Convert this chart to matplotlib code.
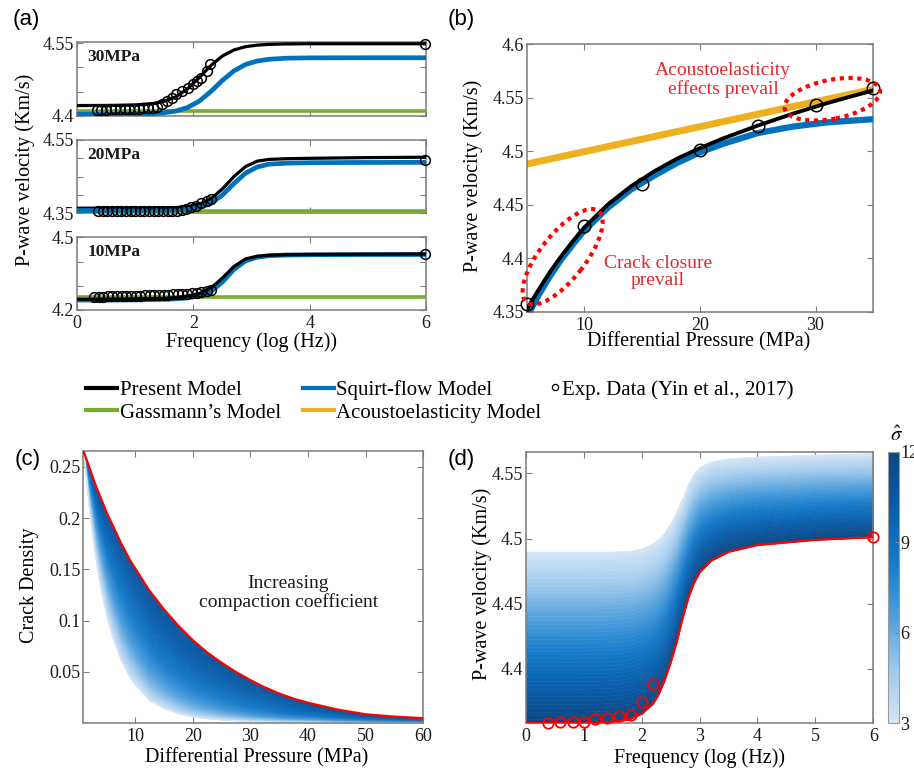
import numpy as np
import matplotlib
matplotlib.use("Agg")
import matplotlib.pyplot as plt
import matplotlib.transforms as mtransforms
from matplotlib.patches import Ellipse
from matplotlib.lines import Line2D
from matplotlib.colors import LinearSegmentedColormap, Normalize
from matplotlib.cm import ScalarMappable

plt.rcParams.update({
    "font.family": ["Liberation Serif", "DejaVu Serif"],
    "mathtext.fontset": "stix",
    "xtick.direction": "in",
    "ytick.direction": "in",
    "xtick.top": True,
    "ytick.right": True,
    "xtick.major.size": 4,
    "ytick.major.size": 4,
    "xtick.major.width": 0.8,
    "ytick.major.width": 0.8,
    "xtick.color": "#808080",
    "ytick.color": "#808080",
    "xtick.labelcolor": "#1a1a1a",
    "ytick.labelcolor": "#1a1a1a",
    "xtick.labelsize": 13,
    "ytick.labelsize": 13,
    "axes.edgecolor": "#7a7a7a",
    "axes.linewidth": 1.1,
})

# ---------------- data ----------------
# (a) dispersion curves at three differential pressures, log10 frequency grid
FREQ_A = [0, 0.6, 1.0, 1.3, 1.5, 1.7, 1.9, 2.1, 2.3, 2.5, 2.7, 2.9, 3.1, 3.3, 3.6, 4.0, 5.0, 6.0]

PRESENT_30 = [4.421, 4.4213, 4.4223, 4.4251, 4.4298, 4.4392, 4.4554, 4.4786, 4.5037, 4.5237,
              4.5362, 4.543, 4.5462, 4.5477, 4.5486, 4.549, 4.549, 4.549]
SQUIRT_30 = [4.403, 4.403, 4.4035, 4.4044, 4.4062, 4.4097, 4.4169, 4.430, 4.4499, 4.4731,
             4.493, 4.5061, 4.5133, 4.5168, 4.5191, 4.5198, 4.520, 4.520]
GASSMANN_30 = 4.410

PRESENT_20 = [4.364, 4.364, 4.364, 4.3642, 4.3646, 4.3655, 4.368, 4.3746, 4.3893, 4.4165,
              4.4505, 4.4777, 4.4924, 4.497, 4.499, 4.500, 4.502, 4.503]
SQUIRT_20 = [4.3577, 4.3577, 4.3577, 4.3578, 4.3581, 4.3588, 4.3607, 4.3656, 4.3771, 4.3998,
             4.4315, 4.4597, 4.4765, 4.4841, 4.4868, 4.488, 4.4888, 4.489]
GASSMANN_20 = 4.357

PRESENT_10 = [4.244, 4.245, 4.246, 4.247, 4.248, 4.251, 4.258, 4.268, 4.290, 4.332,
              4.380, 4.411, 4.422, 4.426, 4.428, 4.429, 4.430, 4.431]
SQUIRT_10 = [4.241, 4.241, 4.242, 4.243, 4.244, 4.246, 4.250, 4.258, 4.276, 4.316,
             4.368, 4.403, 4.418, 4.424, 4.427, 4.428, 4.429, 4.429]
GASSMANN_10 = 4.2535

EXP_F_30 = [0.34, 0.42, 0.50, 0.58, 0.66, 0.74, 0.82, 0.90, 0.98, 1.06, 1.14, 1.22, 1.30,
            1.38, 1.46, 1.55, 1.63, 1.71, 1.80, 1.91, 2.00, 2.07, 2.14, 2.23, 2.29, 5.99]
EXP_V_30 = [4.412, 4.412, 4.412, 4.413, 4.413, 4.413, 4.413, 4.414, 4.414, 4.414, 4.415, 4.415,
            4.416, 4.418, 4.424, 4.431, 4.437, 4.444, 4.451, 4.458, 4.465, 4.471, 4.479, 4.493,
            4.508, 4.549]

EXP_F_20 = [0.36, 0.44, 0.52, 0.60, 0.68, 0.76, 0.84, 0.92, 1.00, 1.08, 1.16, 1.24, 1.32,
            1.40, 1.48, 1.56, 1.64, 1.72, 1.80, 1.88, 1.96, 2.05, 2.14, 2.23, 2.31, 5.99]
EXP_V_20 = [4.355, 4.355, 4.355, 4.355, 4.355, 4.355, 4.355, 4.355, 4.355, 4.355, 4.355, 4.355,
            4.356, 4.356, 4.356, 4.356, 4.357, 4.357, 4.358, 4.362, 4.366, 4.371, 4.378, 4.384,
            4.389, 4.495]

EXP_F_10 = [0.29, 0.37, 0.45, 0.53, 0.61, 0.69, 0.77, 0.85, 0.93, 1.01, 1.09, 1.17, 1.25, 1.33,
            1.41, 1.49, 1.57, 1.65, 1.73, 1.81, 1.89, 1.97, 2.06, 2.14, 2.23, 2.31, 5.99]
EXP_V_10 = [4.254, 4.255, 4.255, 4.256, 4.256, 4.257, 4.257, 4.258, 4.258, 4.259, 4.259, 4.260,
            4.260, 4.261, 4.262, 4.262, 4.263, 4.264, 4.265, 4.266, 4.268, 4.270, 4.272, 4.275,
            4.279, 4.282, 4.431]

# (b) velocity versus differential pressure
PRESSURE_B = [5, 6, 7, 8, 9, 10, 12, 14, 16, 18, 20, 22, 25, 28, 31, 35]
PRESENT_B = [4.352, 4.370, 4.387, 4.402, 4.416, 4.429, 4.450, 4.467, 4.481, 4.493, 4.503,
             4.512, 4.524, 4.535, 4.545, 4.557]
SQUIRT_B = [4.345, 4.365, 4.383, 4.399, 4.413, 4.426, 4.447, 4.464, 4.477, 4.489, 4.499,
            4.507, 4.517, 4.523, 4.527, 4.530]
ACOUSTO_P = [5, 35]
ACOUSTO_V = [4.488, 4.558]
EXP_P_B = [5, 10, 15, 20, 25, 30, 35]
EXP_V_B = [4.357, 4.430, 4.469, 4.501, 4.524, 4.543, 4.559]

# (c) crack density band
PRESSURE_C = [1, 2, 3, 4, 5, 6, 7.5, 9, 10, 12.5, 15, 17.5, 20, 22.5, 25, 27.5, 30, 32.5, 35,
              37.5, 40, 45, 50, 55, 60]
CRACK_UPPER = [0.2656, 0.250, 0.234, 0.220, 0.206, 0.194, 0.176, 0.160, 0.151, 0.129, 0.111,
               0.095, 0.081, 0.069, 0.059, 0.050, 0.042, 0.035, 0.029, 0.024, 0.020, 0.0135,
               0.0088, 0.0065, 0.005]
CRACK_LOWER = [0.2656, 0.207, 0.163, 0.130, 0.104, 0.084, 0.061, 0.045, 0.037, 0.022, 0.0145,
               0.0095, 0.0065, 0.0048, 0.0035, 0.0027, 0.002, 0.0016, 0.0013, 0.0011, 0.001,
               0.0007, 0.0005, 0.0004, 0.0003]

# (d) velocity band for sigma-hat between 3 and 12
FREQ_D = [0, 0.5, 1.0, 1.3, 1.6, 1.8, 2.0, 2.2, 2.3, 2.4, 2.5, 2.6, 2.7, 2.8, 2.9, 3.0,
          3.2, 3.5, 4.0, 5.0, 6.0]
VEL_UPPER_D = [4.490, 4.490, 4.490, 4.490, 4.4902, 4.4907, 4.4925, 4.4965, 4.500, 4.505, 4.512,
               4.521, 4.531, 4.542, 4.550, 4.555, 4.5593, 4.5615, 4.563, 4.5645, 4.5655]
VEL_LOWER_D = [4.3585, 4.3585, 4.3586, 4.3589, 4.3598, 4.3615, 4.3655, 4.3735, 4.381, 4.3915,
               4.4045, 4.4195, 4.4375, 4.4535, 4.4655, 4.474, 4.483, 4.4898, 4.495, 4.499, 4.501]
EXP_F_D = [0.39, 0.60, 0.81, 1.00, 1.20, 1.40, 1.61, 1.81, 2.00, 2.20, 6.00]
EXP_V_D = [4.3583, 4.3596, 4.3596, 4.3596, 4.3619, 4.3624, 4.3642, 4.3647, 4.375, 4.3885, 4.5015]
SIGMA_MIN, SIGMA_MAX = 3, 12

# ---------------- style ----------------
C_BLACK = "#000000"
C_BLUE = "#0072bd"
C_GREEN = "#77ac30"
C_YELLOW = "#edb120"
C_RED = "#ff0000"
C_RED_TXT = "#e8262d"

W, H = 914, 771
fig = plt.figure(figsize=(W / 100, H / 100), dpi=100)


def box(x0, y0, x1, y1):
    return [x0 / W, 1 - y1 / H, (x1 - x0) / W, (y1 - y0) / H]


def ftext(x, y, s, **kw):
    return fig.text(x / W, 1 - y / H, s, **kw)


sigma_cmap = LinearSegmentedColormap.from_list(
    "sigma", ["#d4e6f5", "#9cc8ec", "#4d9ddb", "#1479c8", "#0a5ca8", "#0c467e"])
sigma_norm = Normalize(SIGMA_MIN, SIGMA_MAX)

# ---------------- (a) ----------------
panels_a = [
    (box(77, 42.3, 426, 115.7), "30MPa", PRESENT_30, SQUIRT_30, GASSMANN_30, EXP_F_30, EXP_V_30,
     (4.4, 4.552), [4.4, 4.45, 4.5, 4.55], ["4.4", "", "", "4.55"], (4, 5)),
    (box(77, 140, 426, 213.3), "20MPa", PRESENT_20, SQUIRT_20, GASSMANN_20, EXP_F_20, EXP_V_20,
     (4.35, 4.55), [4.35, 4.4, 4.45, 4.5, 4.55], ["4.35", "", "", "", "4.55"], (4, 5)),
    (box(77, 237.3, 426, 310), "10MPa", PRESENT_10, SQUIRT_10, GASSMANN_10, EXP_F_10, EXP_V_10,
     (4.2, 4.5), [4.2, 4.3, 4.4, 4.5], ["4.2", "", "", "4.5"], (5, 4)),
]
for i, (rect, tag, pres, sq, gas, ef, ev, ylim, yt, ytl, (z_black, z_blue)) in enumerate(panels_a):
    ax = fig.add_axes(rect)
    ax.axhline(gas, color=C_GREEN, lw=2.6, zorder=3)
    ax.plot(FREQ_A, sq, color=C_BLUE, lw=3.4, zorder=z_blue)
    ax.plot(FREQ_A, pres, color=C_BLACK, lw=2.3, zorder=z_black)
    ax.plot(ef, ev, "o", mfc="none", mec="black", ms=7, mew=1.1, zorder=6, clip_on=False)
    ax.set_xlim(0, 6)
    ax.set_ylim(*ylim)
    ax.set_xticks([0, 2, 4, 6])
    ax.set_yticks(yt)
    ax.set_yticklabels(ytl)
    ax.tick_params(axis="y", pad=2)
    if i < 2:
        ax.set_xticklabels([])
    ax.text(0.03, 0.80, tag, transform=ax.transAxes, fontsize=12.5, fontweight="bold",
            ha="left", va="center", color="#1a1a1a")

ftext(25, 170, "P-wave velocity (Km/s)", rotation=90, ha="center", va="center", fontsize=14.5)
ftext(252, 342, "Frequency (log (Hz))", ha="center", va="center", fontsize=14.5)

# ---------------- (b) ----------------
ax_b = fig.add_axes(box(526.7, 44.3, 873.3, 311.7))
ax_b.plot(ACOUSTO_P, ACOUSTO_V, color=C_YELLOW, lw=5, solid_capstyle="butt", zorder=2)
ax_b.plot(PRESSURE_B, SQUIRT_B, color=C_BLUE, lw=4.5, zorder=3)
ax_b.plot(PRESSURE_B, PRESENT_B, color=C_BLACK, lw=2.8, zorder=4)
ax_b.plot(EXP_P_B, EXP_V_B, "o", mfc="none", mec="black", ms=9, mew=1.1, zorder=5, clip_on=False)
ax_b.set_xlim(5, 35)
ax_b.set_ylim(4.35, 4.6)
ax_b.set_xticks([10, 20, 30])
ax_b.set_yticks([4.35, 4.4, 4.45, 4.5, 4.55, 4.6])
ax_b.set_yticklabels(["4.35", "4.4", "4.45", "4.5", "4.55", "4.6"])
ax_b.tick_params(axis="y", pad=2)

for (cx, cy, w_in, h_in, ang) in [(8.11, 4.4014, 1.16, 0.45, 51.8), (31.45, 4.5486, 0.97, 0.39, 11)]:
    tr = fig.dpi_scale_trans + mtransforms.ScaledTranslation(cx, cy, ax_b.transData)
    ax_b.add_patch(Ellipse((0, 0), w_in, h_in, angle=ang, transform=tr, fill=False,
                           ec=C_RED, lw=3, ls=(0, (1, 1.1)), zorder=7, clip_on=False))

ax_b.text(0.566, 0.866, "Acoustoelasticity\neffects prevail", transform=ax_b.transAxes,
          color=C_RED_TXT, fontsize=14, ha="center", va="center", linespacing=1.05)
ax_b.text(0.379, 0.148, "Crack closure\nprevail", transform=ax_b.transAxes,
          color=C_RED_TXT, fontsize=14, ha="center", va="center", linespacing=1.05)
ftext(473, 176, "P-wave velocity (Km/s)", rotation=90, ha="center", va="center", fontsize=14.5)
ftext(699, 342, "Differential Pressure (MPa)", ha="center", va="center", fontsize=14.5)

# ---------------- legend ----------------
h_present = Line2D([], [], color=C_BLACK, lw=3)
h_gass = Line2D([], [], color=C_GREEN, lw=3)
h_squirt = Line2D([], [], color=C_BLUE, lw=3)
h_acou = Line2D([], [], color=C_YELLOW, lw=3)
h_exp = Line2D([], [], ls="none", marker="o", mfc="none", mec="black", ms=4.5, mew=0.9)
fig.legend([h_present, h_gass, h_squirt, h_acou],
           ["Present Model", "Gassmann\u2019s Model", "Squirt-flow Model", "Acoustoelasticity Model"],
           ncol=2, loc="upper left", bbox_to_anchor=(86 / W, 1 - 380 / H), frameon=False,
           fontsize=15, handlelength=1.5, handletextpad=0.12, columnspacing=1.05,
           labelspacing=0.15, borderpad=0, borderaxespad=0)
fig.legend([h_exp], ["Exp. Data (Yin et al., 2017)"], loc="upper left",
           bbox_to_anchor=(551 / W, 1 - 380 / H), frameon=False, fontsize=15,
           handlelength=0.4, handletextpad=0.12, borderpad=0, borderaxespad=0)

# ---------------- (c) ----------------
ax_c = fig.add_axes(box(83.3, 450.7, 423.3, 723.3))
up_c = np.asarray(CRACK_UPPER)
lo_c = np.asarray(CRACK_LOWER)
n_strips = 70
sig_c = np.linspace(10.8, SIGMA_MIN, n_strips + 1)
for k in range(n_strips):
    t0, t1 = k / n_strips, (k + 1) / n_strips
    y0 = up_c ** (1 - t0) * lo_c ** t0
    y1 = up_c ** (1 - t1) * lo_c ** t1
    col = sigma_cmap(sigma_norm(0.5 * (sig_c[k] + sig_c[k + 1])))
    ax_c.fill_between(PRESSURE_C, y1, y0, color=col, lw=0.4, ec=col, zorder=2)
ax_c.plot(PRESSURE_C, CRACK_UPPER, color=C_RED, lw=1.6, zorder=4)
ax_c.set_xlim(1, 60)
ax_c.set_ylim(0, 0.2656)
ax_c.set_xticks([10, 20, 30, 40, 50, 60])
ax_c.set_yticks([0.05, 0.1, 0.15, 0.2, 0.25])
ax_c.set_yticklabels(["0.05", "0.1", "0.15", "0.2", "0.25"])
ax_c.tick_params(axis="y", pad=2)
ax_c.text(0.603, 0.478, "Increasing\ncompaction coefficient", transform=ax_c.transAxes,
          fontsize=14, ha="center", va="center", linespacing=1.15, color="#1a1a1a")
ftext(30, 585, "Crack Density", rotation=90, ha="center", va="center", fontsize=14.5)
ftext(257, 758, "Differential Pressure (MPa)", ha="center", va="center", fontsize=14.5)

# ---------------- (d) ----------------
ax_d = fig.add_axes(box(525.7, 451.7, 873.3, 723.3))
up_d = np.asarray(VEL_UPPER_D)
lo_d = np.asarray(VEL_LOWER_D)
n_strips_d = 45
sig_d = np.linspace(SIGMA_MAX, SIGMA_MIN, n_strips_d + 1)
for k in range(n_strips_d):
    t0, t1 = k / n_strips_d, (k + 1) / n_strips_d
    y0 = lo_d + (up_d - lo_d) * t0
    y1 = lo_d + (up_d - lo_d) * t1
    col = sigma_cmap(sigma_norm(0.5 * (sig_d[k] + sig_d[k + 1])))
    ax_d.fill_between(FREQ_D, y0, y1, color=col, lw=0.4, ec=col, zorder=2)
ax_d.plot(FREQ_D, VEL_LOWER_D, color=C_RED, lw=1.6, zorder=4)
ax_d.plot(EXP_F_D, EXP_V_D, "o", mfc="none", mec=C_RED, ms=7.5, mew=1.3, zorder=5, clip_on=False)
ax_d.set_xlim(0, 6)
ax_d.set_ylim(4.3583, 4.5666)
ax_d.set_xticks([0, 1, 2, 3, 4, 5, 6])
ax_d.set_yticks([4.4, 4.45, 4.5, 4.55])
ax_d.set_yticklabels(["4.4", "4.45", "4.5", "4.55"])
ax_d.tick_params(axis="y", pad=2)
ftext(482, 584, "P-wave velocity (Km/s)", rotation=90, ha="center", va="center", fontsize=14.5)
ftext(700, 758, "Frequency (log (Hz))", ha="center", va="center", fontsize=14.5)

cax = fig.add_axes(box(888, 452, 899, 723))
cb = fig.colorbar(ScalarMappable(norm=sigma_norm, cmap=sigma_cmap), cax=cax,
                  ticks=[3, 6, 9, 12])
cb.outline.set_edgecolor("#9a9a9a")
cb.outline.set_linewidth(0.8)
cax.tick_params(direction="in", length=3, labelsize=13, pad=1)
ftext(897, 436, r"$\hat{\sigma}$", ha="center", va="center", fontsize=15)

# ---------------- panel tags ----------------
for (x, y, s) in [(26, 20, "(a)"), (461, 20, "(b)"), (28, 460, "(c)"), (461, 460, "(d)")]:
    ftext(x, y, s, ha="center", va="center", fontsize=16, family=["Liberation Sans", "DejaVu Sans"])

fig.savefig("out.png", dpi=100)
